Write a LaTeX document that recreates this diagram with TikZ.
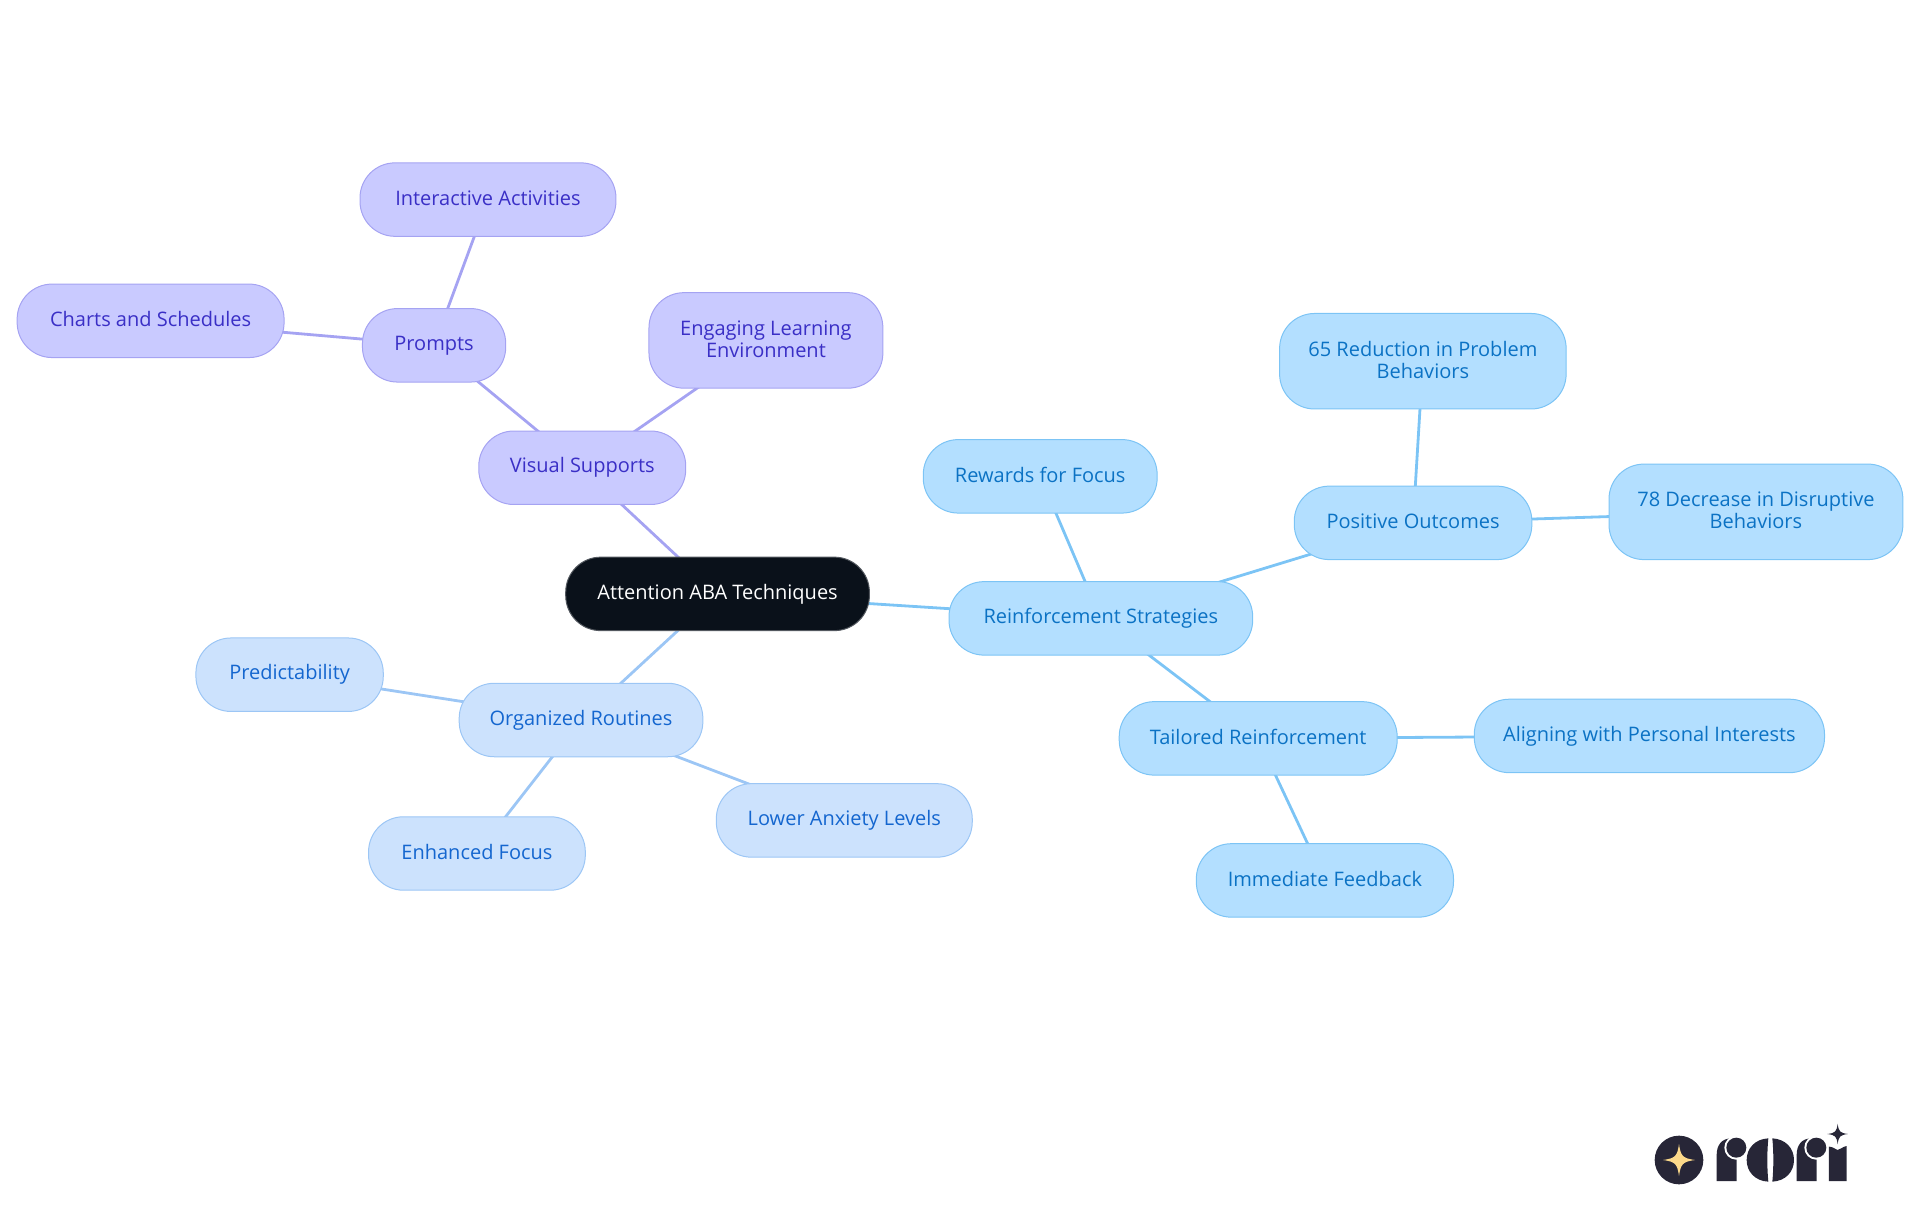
\documentclass[tikz,border=0pt]{standalone}
\usepackage{fontspec}
\setmainfont{Open Sans}
\usetikzlibrary{backgrounds}
\definecolor{purF}{HTML}{C9CAFF}\definecolor{purB}{HTML}{A5A3F2}\definecolor{purT}{HTML}{3A2FC6}
\definecolor{bluF}{HTML}{B3DFFF}\definecolor{bluB}{HTML}{7CC4F5}\definecolor{bluT}{HTML}{0B72C4}
\definecolor{midF}{HTML}{CCE2FD}\definecolor{midB}{HTML}{9CC6F5}\definecolor{midT}{HTML}{1466CF}
\definecolor{rootF}{HTML}{0A111A}\definecolor{logoD}{HTML}{272637}\definecolor{logoG}{HTML}{FCD98A}
\tikzset{
 mapnode/.style={rectangle,rounded corners=35pt,inner sep=0pt,outer sep=0pt,line width=1pt,align=center,
   font=\fontsize{20}{21.5}\selectfont},
 rootnode/.style={mapnode,fill=rootF,draw=rootF!70!white,text=white},
 purnode/.style={mapnode,fill=purF,draw=purB,text=purT},
 blunode/.style={mapnode,fill=bluF,draw=bluB,text=bluT},
 midnode/.style={mapnode,fill=midF,draw=midB,text=midT},
 puredge/.style={draw=purB,line width=2.8pt},
 bluedge/.style={draw=bluB,line width=2.8pt},
 midedge/.style={draw=midB,line width=2.8pt},
}
\newcommand\mmnode[6]{\node[#1,minimum width=#4*1.2245pt,minimum height=#5*1.2245pt] (#2) at (#3) {\rule{0pt}{14pt}#6\rule[-3pt]{0pt}{3pt}};}
\begin{document}
\begin{tikzpicture}[x=1.2245pt,y=-1.2245pt]
\useasboundingbox (0pt,0pt) rectangle (1920pt,-1215pt);
\mmnode{rootnode}{root}{586,485}{248}{60}{Attention ABA Techniques}
\mmnode{blunode}{rs}{899,505}{248}{60}{Reinforcement Strategies}
\mmnode{blunode}{rf}{849.5,389}{191}{60}{Rewards for Focus}
\mmnode{blunode}{po}{1154,427}{194}{60}{Positive Outcomes}
\mmnode{blunode}{r65}{1162,295}{234}{78}{65 Reduction in Problem\\Behaviors}
\mmnode{blunode}{d78}{1434,418}{240}{78}{78 Decrease in Disruptive\\Behaviors}
\mmnode{blunode}{tr}{1027.5,603}{227}{60}{Tailored Reinforcement}
\mmnode{blunode}{ap}{1347,601}{286}{60}{Aligning with Personal Interests}
\mmnode{blunode}{imf}{1082,719}{210}{60}{Immediate Feedback}
\mmnode{purnode}{vs}{475.5,382}{169}{60}{Visual Supports}
\mmnode{purnode}{pr}{354.5,282}{117}{60}{Prompts}
\mmnode{purnode}{ia}{398.5,163}{209}{60}{Interactive Activities}
\mmnode{purnode}{cs}{123,262}{218}{60}{Charts and Schedules}
\mmnode{purnode}{el}{625.5,278}{191}{78}{Engaging Learning\\Environment}
\mmnode{midnode}{or}{474.5,588}{199}{60}{Organized Routines}
\mmnode{midnode}{pd}{236.5,551}{153}{60}{Predictability}
\mmnode{midnode}{ef}{389.5,697}{177}{60}{Enhanced Focus}
\mmnode{midnode}{la}{689.5,670}{209}{60}{Lower Anxiety Levels}
\begin{scope}[on background layer]
\draw[bluedge] (root.center)--(rs.center);
\draw[bluedge] (rs.center)--(rf.center);
\draw[bluedge] (rs.center)--(po.center);
\draw[bluedge] (po.center)--(r65.center);
\draw[bluedge] (po.center)--(d78.center);
\draw[bluedge] (rs.center)--(tr.center);
\draw[bluedge] (tr.center)--(ap.center);
\draw[bluedge] (tr.center)--(imf.center);
\draw[puredge] (root.center)--(vs.center);
\draw[puredge] (vs.center)--(pr.center);
\draw[puredge] (pr.center)--(ia.center);
\draw[puredge] (pr.center)--(cs.center);
\draw[puredge] (vs.center)--(el.center);
\draw[midedge] (root.center)--(or.center);
\draw[midedge] (or.center)--(pd.center);
\draw[midedge] (or.center)--(ef.center);
\draw[midedge] (or.center)--(la.center);
\end{scope}
% logo, in units of the 3x crop at (1620,1100)
\begin{scope}[shift={(1620pt,-1100pt)},x=0.3333pt,y=-0.3333pt]
\fill[logoD] (177,180) circle (73);
\fill[logoG] (177,132) .. controls (182,168) and (188,175) .. (225,180) .. controls (188,185) and (182,192) .. (177,228) .. controls (172,192) and (166,185) .. (129,180) .. controls (166,175) and (172,168) .. (177,132) -- cycle;
% first r
\fill[logoD] (290,243) -- (290,165) .. controls (290,135) and (305,115) .. (335,115) -- (350,150) -- (350,243) -- cycle;
\fill[white] (349,143) circle (36);
\fill[logoD] (349,143) circle (30);
% o
\fill[logoD] (445,115) .. controls (405,117) and (380,145) .. (380,180) .. controls (380,215) and (405,243) .. (445,245) .. controls (441,205) and (441,155) .. (445,115) -- cycle;
\fill[logoD] (457,115) .. controls (497,117) and (522,145) .. (522,180) .. controls (522,215) and (497,243) .. (457,245) .. controls (461,205) and (461,155) .. (457,115) -- cycle;
% second r
\fill[logoD] (530,243) -- (530,165) .. controls (530,135) and (545,115) .. (575,115) -- (590,150) -- (590,243) -- cycle;
\fill[white] (589,143) circle (36);
\fill[logoD] (589,143) circle (30);
% i
\fill[logoD] (627,243) -- (627,140) .. controls (640,140) and (645,148) .. (653,150) .. controls (662,148) and (668,140) .. (680,138) -- (680,243) -- cycle;
% small star
\fill[logoD] (653,71) .. controls (656,95) and (660,99) .. (684,102) .. controls (660,105) and (656,109) .. (653,133) .. controls (650,109) and (646,105) .. (622,102) .. controls (646,99) and (650,95) .. (653,71) -- cycle;
\end{scope}
\end{tikzpicture}
\end{document}
